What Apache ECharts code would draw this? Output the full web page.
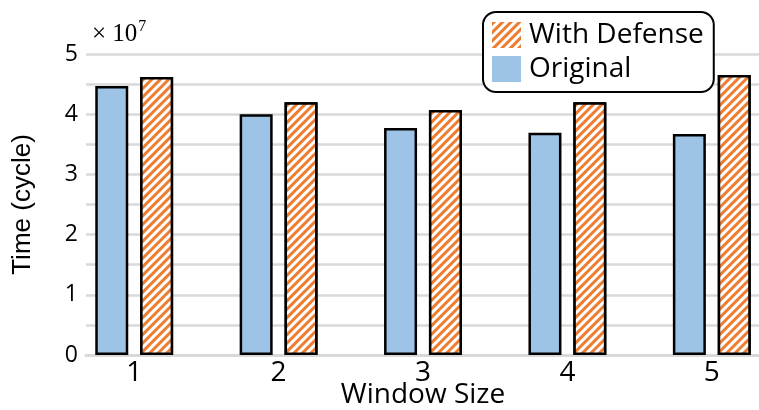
<!DOCTYPE html>
<html>
<head>
<meta charset="utf-8">
<script src="https://cdn.jsdelivr.net/npm/echarts@6/dist/echarts.min.js"></script>
<style>
  html, body { margin: 0; padding: 0; background: #fff; }
  #chart { width: 759px; height: 410px; }
</style>
</head>
<body>
<div id="chart"></div>
<script>
// Window sizes on the x axis
const windowSizes = ['1', '2', '3', '4', '5'];
// Execution time in units of 10^7 cycles
const originalTime = [4.47, 4.00, 3.77, 3.69, 3.67];
const defenseTime = [4.62, 4.20, 4.07, 4.20, 4.65];
// Y tick labels (only whole values are labelled; half steps get a gridline)
const yTickLabels = ['0', '1', '2', '3', '4', '5'];

const blueFill = '#9DC3E6';
const orange = '#ED7D31';
const sansFont = '"Open Sans", "Noto Sans", sans-serif';
const serifFont = '"Liberation Serif", "DejaVu Serif", serif';

const chart = echarts.init(document.getElementById('chart'), null, { renderer: 'canvas' });

const hatch = {
  symbol: 'rect',
  symbolSize: 1,
  color: orange,
  backgroundColor: '#ffffff',
  dashArrayX: [[1, 0]],
  dashArrayY: [2.2, 2.2],
  rotation: -Math.PI / 4
};

chart.setOption({
  animation: false,
  backgroundColor: '#ffffff',
  grid: [
    // bars
    { left: 62, right: -25, top: 54, bottom: 55, outerBoundsMode: 'none', containLabel: false },
    // gridlines, y labels and axis line
    { left: 86, right: 0, top: 54, bottom: 55, outerBoundsMode: 'none', containLabel: false }
  ],
  xAxis: [
    {
      type: 'category',
      gridIndex: 0,
      data: windowSizes,
      axisLine: { show: false },
      axisTick: { show: false },
      axisLabel: { fontFamily: sansFont, fontSize: 28, color: '#000', margin: 4 },
      name: 'Window Size',
      nameLocation: 'middle',
      nameGap: 26,
      nameMoveOverlap: false,
      nameTextStyle: { fontFamily: sansFont, fontSize: 28, color: '#000' }
    },
    {
      type: 'value',
      gridIndex: 1,
      min: 0,
      max: 1,
      axisLine: { show: true, onZero: false, lineStyle: { color: '#D9D9D9', width: 3 } },
      axisTick: { show: false },
      axisLabel: { show: false },
      splitLine: { show: false }
    }
  ],
  yAxis: [
    {
      type: 'value',
      gridIndex: 0,
      min: 0,
      max: 5,
      show: false,
      splitLine: { show: false }
    },
    {
      type: 'value',
      gridIndex: 1,
      min: 0,
      max: 5,
      interval: 0.5,
      axisLine: { show: false },
      axisTick: { show: false },
      axisLabel: {
        fontFamily: sansFont,
        fontSize: 23,
        color: '#000',
        margin: 8,
        formatter: function (v) {
          return Number.isInteger(v) ? yTickLabels[v] : '';
        }
      },
      splitLine: { show: true, lineStyle: { color: '#D9D9D9', width: 2.5 } },
      name: 'Time (cycle)',
      nameLocation: 'middle',
      nameGap: 50,
      nameRotate: 90,
      nameMoveOverlap: false,
      nameTextStyle: { fontFamily: '"Liberation Sans", Arial, sans-serif', fontSize: 26, color: '#000' }
    }
  ],
  legend: {
    data: ['With Defense', 'Original'],
    orient: 'vertical',
    left: 483,
    top: 12,
    padding: [9, 10, 9, 9],
    itemGap: 6,
    itemWidth: 29,
    itemHeight: 26,
    icon: 'rect',
    borderColor: '#000',
    borderWidth: 2,
    borderRadius: 13,
    backgroundColor: '#ffffff',
    itemStyle: { borderWidth: 0 },
    textStyle: { fontFamily: sansFont, fontSize: 28, color: '#000', padding: [0, 0, 0, 3] }
  },
  graphic: [
    {
      type: 'text',
      left: 92,
      top: 19,
      style: {
        text: '{a|× 10}{s|7}',
        rich: {
          a: { fontFamily: serifFont, fontSize: 25, fill: '#000', verticalAlign: 'bottom' },
          s: { fontFamily: serifFont, fontSize: 16, fill: '#000', verticalAlign: 'top', padding: [0, 0, 12, 1] }
        }
      }
    }
  ],
  series: [
    {
      name: 'Original',
      type: 'bar',
      xAxisIndex: 0,
      yAxisIndex: 0,
      data: originalTime,
      barWidth: 33,
      barGap: '36%',
      itemStyle: { color: blueFill, borderColor: '#000', borderWidth: 2.5 }
    },
    {
      name: 'With Defense',
      type: 'bar',
      xAxisIndex: 0,
      yAxisIndex: 0,
      data: defenseTime,
      barWidth: 33,
      barGap: '36%',
      itemStyle: { color: '#ffffff', borderColor: '#000', borderWidth: 2.5, decal: hatch }
    }
  ]
});
</script>
</body>
</html>
